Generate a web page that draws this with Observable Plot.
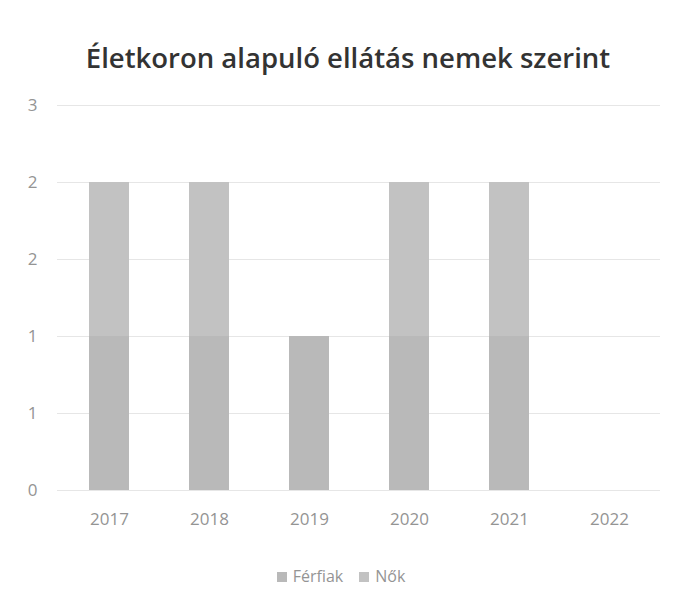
<!DOCTYPE html>
<html>
<head>
<meta charset="utf-8">
<script src="https://cdn.jsdelivr.net/npm/d3@7"></script>
<script src="https://cdn.jsdelivr.net/npm/@observablehq/plot@0.6"></script>
<style>
  html, body { margin: 0; padding: 0; background: #fff; }
  #wrap { width: 682px; height: 607px; position: relative; font-family: "Open Sans", sans-serif; }
  #title { height: 90px; box-sizing: border-box; padding-top: 38px; padding-left: 14px; text-align: center; font-size: 27.5px; font-weight: 600; color: #333; line-height: 40px; }
  #legend { position: absolute; top: 565px; left: 0; width: 682px; text-align: center; font-size: 16px; color: #949494; }
  .sw { display: inline-block; width: 10px; height: 10px; margin-right: 6px; vertical-align: 0px; }
  .item { margin: 0 8px; }
</style>
</head>
<body>
<div id="wrap">
  <div id="title">Életkoron alapuló  ellátás nemek szerint</div>
  <div id="chart"></div>
  <div id="legend"></div>
</div>
<script>
const years = ["2017", "2018", "2019", "2020", "2021", "2022"];
const ferfiak = [1, 1, 1, 1, 1, 0];
const nok = [1, 1, 0, 1, 1, 0];
const seriesNames = ["Férfiak", "Nők"];
const seriesColors = ["#b9b9b9", "#c2c2c2"];
const yTickValues = [0, 0.5, 1, 1.5, 2, 2.5];
const yTickLabels = ["0", "1", "1", "2", "2", "3"];

const data = [];
years.forEach((y, i) => {
  data.push({year: y, series: seriesNames[0], value: ferfiak[i]});
  data.push({year: y, series: seriesNames[1], value: nok[i]});
});

const chart = Plot.plot({
  width: 682,
  height: 450,
  marginTop: 15,
  marginBottom: 50,
  marginLeft: 57,
  marginRight: 22,
  style: {fontFamily: "Open Sans, sans-serif", fontSize: "16px", color: "#949494", background: "transparent"},
  x: {domain: years, paddingInner: 0.6, paddingOuter: 0.3, label: null, tickSize: 0, tickPadding: 22},
  y: {domain: [0, 2.5], label: null},
  color: {domain: seriesNames, range: seriesColors},
  marks: [
    Plot.gridY(yTickValues, {stroke: "#e6e6e6", strokeOpacity: 1}),
    Plot.barY(data, Plot.stackY({x: "year", y: "value", fill: "series", order: seriesNames})),
    Plot.axisX({tickSize: 0, tickPadding: 22, fontSize: 17}),
    Plot.axisY({ticks: yTickValues, tickSize: 0, tickPadding: 20, fontSize: 17,
      tickFormat: (d) => yTickLabels[yTickValues.indexOf(d)]})
  ]
});
document.getElementById("chart").appendChild(chart);

const legend = document.getElementById("legend");
seriesNames.forEach((n, i) => {
  const s = document.createElement("span");
  s.className = "item";
  s.innerHTML = `<span class="sw" style="background:${seriesColors[i]}"></span>${n}`;
  legend.appendChild(s);
});
</script>
</body>
</html>
